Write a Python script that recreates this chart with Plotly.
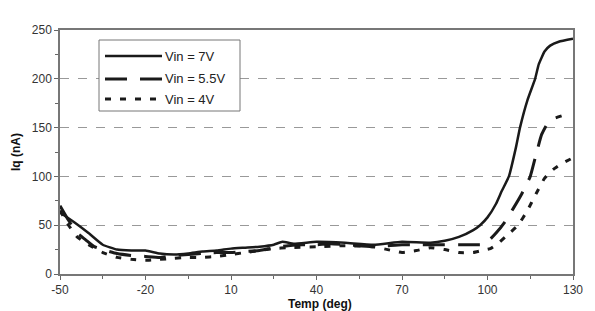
import plotly.graph_objects as go

# Data
temp_7v = [-50, -45, -40, -35, -30, -25, -20, -15, -10, -5, 0, 5, 10, 15, 20, 25, 28, 32, 40, 50, 60, 70, 80, 85, 90, 95, 97.4, 100, 103, 105, 107.5, 110, 111.4, 114, 116.7, 118, 120, 122, 125, 130]
iq_7v = [63, 53, 42, 30, 25, 24, 24, 21, 20, 21, 23, 24, 26, 27, 28, 30, 33, 31, 33, 32, 30, 33, 32, 34, 38, 45, 50, 58, 72, 85, 100, 130, 150, 178, 200, 215, 228, 234, 238, 241]

temp_55v = [-50, -47, -44, -41, -38, -35, -30, -25, -20, -15, -10, -5, 0, 5, 10, 15, 20, 25, 30, 35, 40, 45, 50, 55, 60, 65, 70, 75, 80, 85, 90, 95, 98, 100, 103, 106, 109, 112, 115, 117, 119, 121, 123, 126]
iq_55v = [70, 55, 42, 35, 28, 25, 21, 19, 18, 17, 19, 20, 21, 22, 22, 23, 24, 27, 29, 30, 30, 31, 30, 29, 28, 29, 30, 30, 30, 30, 30, 30, 30, 33, 42, 53, 67, 82, 100, 122, 143, 154, 159, 162]

temp_4v = [-50, -47, -44, -40, -35, -30, -25, -20, -15, -10, -5, 0, 5, 10, 15, 20, 25, 30, 40, 50, 60, 65, 70, 75, 80, 85, 90, 95, 98, 101, 104, 107, 110.7, 114, 117, 120, 123, 126, 130]
iq_4v = [65, 50, 38, 30, 22, 17, 15, 14, 15, 16, 17, 17, 18, 20, 22, 24, 26, 27, 28, 29, 28, 25, 22, 24, 27, 25, 22, 22, 24, 26, 32, 40, 50, 65, 82, 98, 107, 113, 119]

series_names = ["Vin = 7V", "Vin = 5.5V", "Vin = 4V"]
x_ticks = [-50, -20, 10, 40, 70, 100, 130]
y_ticks = [0, 50, 100, 150, 200, 250]

dashes = ["solid", "22px,13px", "6px,9px"]
widths = [2.5, 3, 3]

fig = go.Figure()
for xs, ys, name, d, w in zip([temp_7v, temp_55v, temp_4v], [iq_7v, iq_55v, iq_4v], series_names, dashes, widths):
    fig.add_trace(go.Scatter(x=xs, y=ys, mode="lines", name=name,
                             line=dict(color="#1a1a1a", width=w, dash=d, shape="spline", smoothing=0.4),
                             showlegend=False))

font = "Liberation Sans, Arial, sans-serif"

fig.update_layout(
    width=595, height=311,
    margin=dict(l=60, r=22, t=30, b=37, autoexpand=False),
    paper_bgcolor="white", plot_bgcolor="white",
    font=dict(family=font, size=12, color="#333"),
    xaxis=dict(range=[-50, 130], tickvals=x_ticks, ticktext=[str(v) for v in x_ticks],
               ticks="outside", ticklen=4, tickcolor="#666", automargin=False,
               minor=dict(dtick=15, tick0=-50, ticks="outside", ticklen=3, tickcolor="#666"),
               showline=True, linecolor="#777", linewidth=1.5, mirror=True,
               showgrid=False, zeroline=False),
    yaxis=dict(range=[0, 250], tickvals=y_ticks, ticktext=[str(v) for v in y_ticks],
               ticks="outside", ticklen=4, tickcolor="#666", automargin=False,
               minor=dict(dtick=25, tick0=0, ticks="outside", ticklen=3, tickcolor="#666", showgrid=False),
               showline=True, linecolor="#777", linewidth=1.5, mirror=True,
               showgrid=True, gridcolor="#999", griddash="dash", gridwidth=0.6,
               zeroline=False),
)

# Axis titles as annotations (paper coords)
px = lambda v: (v - 60) / 513
py = lambda v: (274 - v) / 244
fig.add_annotation(xref="paper", yref="paper", x=px(320), y=py(304), text="<b>Temp (deg)</b>", showarrow=False,
                   xanchor="center", yanchor="middle", font=dict(family=font, size=12, color="#111"))
fig.add_annotation(xref="paper", yref="paper", x=px(16), y=py(152), text="<b>Iq (nA)</b>", showarrow=False,
                   textangle=-90, xanchor="center", yanchor="middle", font=dict(family=font, size=12, color="#111"))

# Manual legend box
fig.add_shape(type="rect", xref="paper", yref="paper", x0=px(99), x1=px(240), y0=py(111), y1=py(40),
              line=dict(color="#777", width=1), fillcolor="white", layer="above")
rows = [56, 79, 99]
for name, d, w, yy in zip(series_names, dashes, widths, rows):
    fig.add_shape(type="line", xref="paper", yref="paper", x0=px(105), x1=px(162), y0=py(yy), y1=py(yy),
                  line=dict(color="#1a1a1a", width=w, dash=d), layer="above")
    fig.add_annotation(xref="paper", yref="paper", x=px(163), y=py(yy), text=name, showarrow=False,
                       xanchor="left", yanchor="middle", font=dict(family=font, size=13, color="#222"))

fig.write_html("out.html", config={"displayModeBar": False},
               post_script="document.body.style.margin='0';document.body.style.overflow='hidden';")
